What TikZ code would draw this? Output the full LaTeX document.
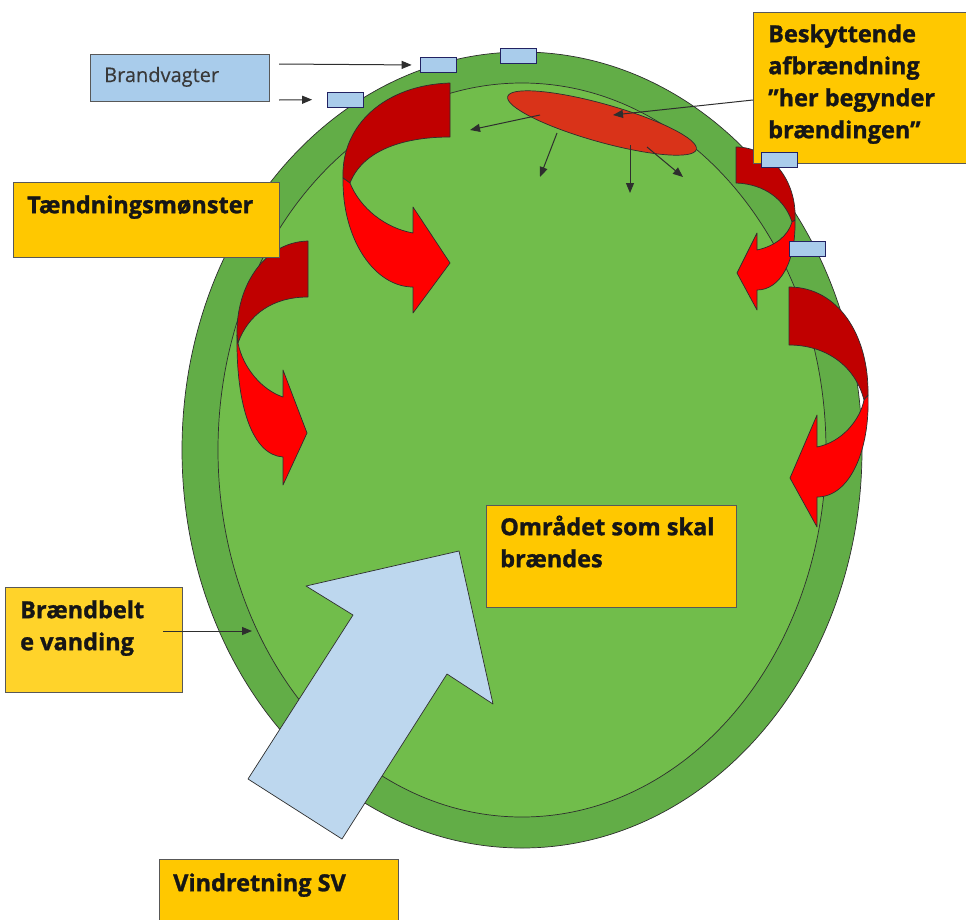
\documentclass[tikz,border=0pt]{standalone}
\usepackage{fontspec}
\newfontfamily\lblfont{Open Sans}[BoldFeatures={FakeBold=1.2}]
\newfontfamily\bvfont{Open Sans}[FakeBold=0.4]
\usetikzlibrary{shapes.geometric,arrows.meta}
\definecolor{ringgreen}{HTML}{62AD47}
\definecolor{innergreen}{HTML}{71BD4B}
\definecolor{gold}{HTML}{FFC800}
\definecolor{goldlight}{HTML}{FFD32A}
\definecolor{paleblue}{HTML}{A9CCEB}
\definecolor{windblue}{HTML}{BDD7EE}
\definecolor{darkred}{HTML}{C00000}
\definecolor{brightred}{HTML}{FF0000}
\definecolor{firered}{HTML}{D93319}
\definecolor{edgecol}{HTML}{2E2E2E}
\definecolor{txt}{HTML}{161616}
\begin{document}
\begin{tikzpicture}[x=1pt,y=-1pt,
  box/.style={rectangle, draw=edgecol!80, line width=0.8pt, fill=gold, inner sep=0, outer sep=0, anchor=north west},
  lbl/.style={font=\lblfont\bfseries\fontsize{23.5}{32}\selectfont, text=txt, inner sep=0, anchor=north west, align=left},
  guard/.style={rectangle, draw=edgecol!75!blue, fill=paleblue, line width=0.7pt, minimum width=36, minimum height=15, inner sep=0},
  conn/.style={draw=edgecol, line width=1pt, -{Triangle[length=10pt,width=8pt]}},
  shapeedge/.style={draw=edgecol, line width=0.7pt, line join=round},
  backband/.style={shapeedge, fill=darkred},
  frontband/.style={shapeedge, fill=brightred}
]
\useasboundingbox (0,0) rectangle (966,919);

% area ellipses
\node[ellipse, shapeedge, fill=ringgreen, minimum width=680, minimum height=796, inner sep=0] (outer) at (522,450) {};
\node[ellipse, shapeedge, fill=innergreen, minimum width=608, minimum height=734, inner sep=0] (inner) at (522,450) {};

% protective burn zone
\node[ellipse, shapeedge, fill=firered, minimum width=196, minimum height=38, inner sep=0, rotate=-15.7] (fire) at (602,123) {};

% curved ignition arrows
% A (top left)
\draw[backband] (450,83) .. controls (385,85) and (341,125) .. (343,178) -- (350,183) .. controls (362,152) and (400,137) .. (450,137) -- cycle;
\draw[frontband] (343,178) .. controls (342,240) and (375,287) .. (413,287) -- (413,313) -- (450,263) -- (413,207) -- (413,233) .. controls (385,228) and (360,208) .. (350,183) -- cycle;
% B (left)
\draw[backband] (308,241) .. controls (265,242) and (236,285) .. (237,335) -- (238,343) .. controls (248,315) and (272,297) .. (308,297) -- cycle;
\draw[frontband] (237,335) .. controls (236,405) and (252,455) .. (283,457) -- (283,485) -- (307,433) -- (283,370) -- (283,397) .. controls (262,390) and (243,368) .. (238,343) -- cycle;
% C (top right)
\draw[backband] (736,147) .. controls (770,147) and (797,180) .. (795,220) -- (792,222) .. controls (785,200) and (765,184) .. (736,183) -- cycle;
\draw[frontband] (795,220) .. controls (796,262) and (780,290) .. (757,290) -- (757,310) -- (737,273) -- (757,233) -- (757,250) .. controls (775,246) and (788,236) .. (792,222) -- cycle;
% D (right)
\draw[backband] (789,287) .. controls (838,287) and (869,335) .. (868,395) -- (864,400) .. controls (855,365) and (825,345) .. (789,345) -- cycle;
\draw[frontband] (868,395) .. controls (870,450) and (850,497) .. (817,497) -- (817,527) -- (790,478) -- (817,415) -- (817,447) .. controls (842,442) and (860,420) .. (864,400) -- cycle;

% wind arrow
\draw[shapeedge, fill=windblue] (248,779) -- (353,615) -- (306,586) -- (459,551) -- (493,704) -- (447,674) -- (342,839) -- cycle;

% boxes
\node[box, fill=paleblue, minimum width=179, minimum height=47] (bvbox) at (90,54) {};
\node[box, minimum width=266, minimum height=75] (taendbox) at (13,182) {};
\node[box, minimum width=216, minimum height=151] (beskbox) at (753,12) {};
\node[box, minimum width=250, minimum height=102] (omrbox) at (486,505) {};
\node[box, fill=goldlight, minimum width=177, minimum height=105] (braendbox) at (5,587) {};
\node[box, minimum width=239, minimum height=70] (vindbox) at (159,859) {};

% texts
\node[font=\bvfont\fontsize{20}{26}\selectfont, text=txt!85, inner sep=0, anchor=base west] (bvtext) at (104,82) {Brandvagter};
\node[lbl] (taendtext) at (27,190.6) {\strut Tændningsmønster};
\node[lbl] (beskt) at (768,19.6) {\strut Beskyttende\\afbrændning\\”her begynder\\brændingen”};
\node[lbl] (omrtext) at (500,512.6) {\strut Området som skal\\brændes};
\node[lbl] (braendtext) at (20,595.6) {\strut Brændbelt\\e vanding};
\node[lbl] (vindtext) at (173,868.6) {\strut Vindretning SV};

% guards
\node[guard] (g1) at (438,65) {};
\node[guard] (g2) at (345.5,99.5) {};
\node[guard] (g3) at (518,55.5) {};
\node[guard] (g4) at (779,159.5) {};
\node[guard] (g5) at (807,249) {};

% connectors
\coordinate (bv1) at (279,64);
\coordinate (bv2) at (279,100);
\draw[conn, shorten >=8pt] (bv1) -- (g1.west);
\draw[conn, shorten >=15pt] (bv2) -- (g2.west);

\coordinate (bs) at (753,100);
\coordinate (bt) at (613,115);
\draw[conn] (bs) -- (bt);

\coordinate (f1s) at (540,115); \coordinate (f1e) at (470,130);
\coordinate (f2s) at (557,133); \coordinate (f2e) at (540,177);
\coordinate (f3s) at (630,145); \coordinate (f3e) at (630,193);
\coordinate (f4s) at (647,147); \coordinate (f4e) at (683,177);
\draw[conn] (f1s) -- (f1e);
\draw[conn] (f2s) -- (f2e);
\draw[conn] (f3s) -- (f3e);
\draw[conn] (f4s) -- (f4e);

\coordinate (brs) at (163,631);
\coordinate (bre) at (252,631);
\draw[conn] (brs) -- (bre);
\end{tikzpicture}
\end{document}
